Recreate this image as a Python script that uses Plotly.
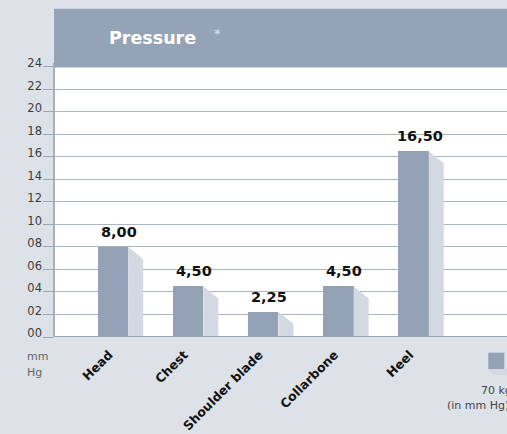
import plotly.graph_objects as go

# ---- data ----
categories = ["Head", "Chest", "Shoulder blade", "Collarbone", "Heel"]
values = [8.00, 4.50, 2.25, 4.50, 16.50]
ytick_vals = list(range(0, 25, 2))
ytick_text = [f"{v:02d}" for v in ytick_vals]
title_text = "Pressure"
unit_lines = ["mm", "Hg"]
legend_lines = ["70 kg", "(in mm Hg)"]

# ---- style ----
BG = "#dde2e9"
HEADER = "#95a3b6"
BAR = "#94a2b5"
SHADOW = "#d2d9e2"
GRID = "#a9b5c6"
FONT = "DejaVu Sans"

W, H = 507, 434
BASE_PX = 337          # pixel row of value 0
TOP_PX = 63            # top of plotting area (hidden under header)
L, R, T, B = 55, 0, TOP_PX, H - BASE_PX
pw, ph = W - L - R, H - T - B

positions = list(range(len(categories)))
bar_w = 0.406
shadow_w = 0.20
shadow_drop = 1.07
x_range = [-0.770, 5.244]
label_shift = 0.35            # y tick labels sit slightly above their grid line
y_range = [0, 24 + label_shift]
xlabel_shift = 0.05           # x tick labels end a bit left of the tick

def px_x(p):
    return (p - L) / pw

def px_y(p):
    return (BASE_PX - p) / ph

fig = go.Figure()

# shadows (3D side faces)
for pos, v in zip(positions, values):
    x1 = pos + bar_w / 2
    x2 = x1 + shadow_w
    fig.add_trace(go.Scatter(
        x=[x1, x2, x2, x1, x1], y=[v, v - shadow_drop, 0, 0, v],
        fill="toself", fillcolor=SHADOW, mode="lines", line=dict(width=0),
        showlegend=False, hoverinfo="skip"))

# front bars
fig.add_trace(go.Bar(
    x=positions, y=values, width=bar_w, marker=dict(color=BAR, line=dict(width=0)),
    showlegend=False, hoverinfo="skip"))

# dummy traces for the label axes
fig.add_trace(go.Scatter(x=[None], y=[None], yaxis="y2", showlegend=False, hoverinfo="skip"))
fig.add_trace(go.Scatter(x=[None], y=[None], xaxis="x2", showlegend=False, hoverinfo="skip"))

# value labels
for pos, v in zip(positions, values):
    fig.add_annotation(x=pos + 0.08, y=v, text=f"{v:.2f}".replace(".", ","),
                       showarrow=False, xanchor="center", yanchor="bottom", yshift=5,
                       font=dict(family=FONT, size=14.5, color="#111111", weight="bold"))

fig.update_layout(
    width=W, height=H,
    margin=dict(l=L, r=R, t=T, b=B, autoexpand=False),
    paper_bgcolor=BG, plot_bgcolor="white",
    bargap=0,
    xaxis=dict(range=x_range, tickvals=positions, showticklabels=False,
               showgrid=False, zeroline=False, showline=False, ticks=""),
    xaxis2=dict(range=[x_range[0] + xlabel_shift, x_range[1] + xlabel_shift],
                overlaying="x", side="bottom",
                tickvals=positions, ticktext=categories, tickangle=-45,
                showgrid=False, zeroline=False, showline=False, ticks="",
                ticklabelstandoff=7,
                tickfont=dict(family=FONT, size=12.5, color="#111111", weight="bold")),
    yaxis=dict(range=y_range, tickvals=ytick_vals, showticklabels=False,
               showgrid=True, gridcolor=GRID, gridwidth=1, zeroline=False,
               showline=True, linecolor="#a4b0c1", linewidth=2,
               ticks="outside", ticklen=10, tickcolor="#9aa7b8", tickwidth=1),
    yaxis2=dict(range=[y_range[0] - label_shift, y_range[1] - label_shift],
                overlaying="y", side="left", tickvals=ytick_vals, ticktext=ytick_text,
                showgrid=False, zeroline=False, showline=False, ticks="",
                ticklabelstandoff=12,
                tickfont=dict(family=FONT, size=11.5, color="#3c3c3c")),
)

# baseline
fig.add_shape(type="line", xref="paper", yref="y", x0=0, x1=1, y0=0, y1=0,
              line=dict(color="#98a6b9", width=2), layer="above")

# header band
fig.add_shape(type="rect", xref="paper", yref="paper", x0=px_x(54), x1=1,
              y0=px_y(67.5), y1=px_y(8.7), fillcolor=HEADER, line=dict(width=0), layer="above")
fig.add_annotation(xref="paper", yref="paper", x=px_x(107), y=px_y(38),
                   xanchor="left", yanchor="middle", showarrow=False,
                   text=f"<b>{title_text}</b>",
                   font=dict(family=FONT, size=17.5, color="white"))
fig.add_annotation(xref="paper", yref="paper", x=px_x(217), y=px_y(33),
                   xanchor="center", yanchor="middle", showarrow=False, text="*",
                   font=dict(family=FONT, size=13, color="#e2e6ec"))

# unit label
for i, t in enumerate(unit_lines):
    fig.add_annotation(xref="paper", yref="paper", x=px_x(25), y=px_y(356 + 16 * i),
                       xanchor="left", yanchor="middle", showarrow=False, text=t,
                       font=dict(family=FONT, size=11, color="#666666"))

# legend swatch (cut at edge)
fig.add_shape(type="path", xref="paper", yref="paper",
              path=f"M {px_x(488.3)} {px_y(369)} L {px_x(494)} {px_y(375)} L {px_x(510)} {px_y(375)} L {px_x(510)} {px_y(369)} Z",
              fillcolor=SHADOW, line=dict(width=0))
fig.add_shape(type="rect", xref="paper", yref="paper",
              x0=px_x(488.3), x1=px_x(504.3), y0=px_y(369), y1=px_y(352.7),
              fillcolor=BAR, line=dict(width=0))
fig.add_annotation(xref="paper", yref="paper", x=px_x(479), y=px_y(390),
                   xanchor="left", yanchor="middle", showarrow=False, text=legend_lines[0],
                   font=dict(family=FONT, size=11, color="#444444"))
fig.add_annotation(xref="paper", yref="paper", x=px_x(445), y=px_y(405),
                   xanchor="left", yanchor="middle", showarrow=False, text=legend_lines[1],
                   font=dict(family=FONT, size=11, color="#444444"))

fig.write_html("out.html", config={"displayModeBar": False},
               post_script="document.body.style.margin='0';document.body.style.overflow='hidden';")
